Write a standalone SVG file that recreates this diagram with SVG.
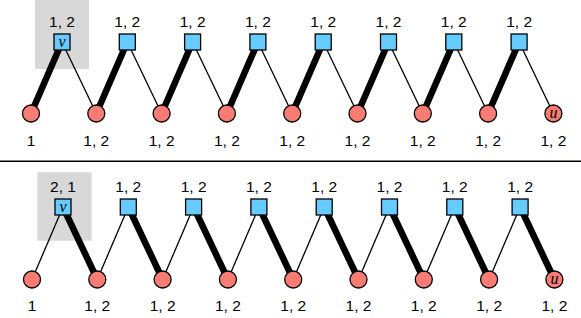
<svg xmlns="http://www.w3.org/2000/svg" width="581" height="318" viewBox="0 0 581 318">
<style>
.bg{fill:#d8d8d8}
.thick{stroke:#000;stroke-width:6.5;stroke-linecap:round}
.thin{stroke:#000;stroke-width:1.3}
.sq{fill:#66ccff;stroke:#000;stroke-width:1.3}
.ci{fill:#f87c74;stroke:#000;stroke-width:1.3}
.lb{font-family:"Liberation Sans",Arial,sans-serif;font-size:15.5px;text-anchor:middle;fill:#000}
.it{font-family:"Liberation Serif","Times New Roman",serif;font-style:italic;font-size:16px;text-anchor:middle;fill:#000}
</style>
<rect class="bg" x="35" y="0" width="54" height="69"/>
<rect class="bg" x="37.3" y="172.3" width="54.4" height="68.4"/>
<line x1="0" y1="161.3" x2="581" y2="161.3" stroke="#000" stroke-width="1.5"/>
<g id="connectors">
<g id="top-edges">
<line class="thick" x1="31" y1="113.5" x2="62" y2="42"/>
<line class="thin" x1="62" y1="42" x2="96.3" y2="113.5"/>
<line class="thick" x1="96.3" y1="113.5" x2="127.3" y2="42"/>
<line class="thin" x1="127.3" y1="42" x2="161.6" y2="113.5"/>
<line class="thick" x1="161.6" y1="113.5" x2="192.6" y2="42"/>
<line class="thin" x1="192.6" y1="42" x2="226.9" y2="113.5"/>
<line class="thick" x1="226.9" y1="113.5" x2="257.9" y2="42"/>
<line class="thin" x1="257.9" y1="42" x2="292.2" y2="113.5"/>
<line class="thick" x1="292.2" y1="113.5" x2="323.2" y2="42"/>
<line class="thin" x1="323.2" y1="42" x2="357.5" y2="113.5"/>
<line class="thick" x1="357.5" y1="113.5" x2="388.5" y2="42"/>
<line class="thin" x1="388.5" y1="42" x2="422.8" y2="113.5"/>
<line class="thick" x1="422.8" y1="113.5" x2="453.8" y2="42"/>
<line class="thin" x1="453.8" y1="42" x2="488.1" y2="113.5"/>
<line class="thick" x1="488.1" y1="113.5" x2="519.1" y2="42"/>
<line class="thin" x1="519.1" y1="42" x2="553.4" y2="113.5"/>
</g>
<g id="bottom-edges">
<line class="thin" x1="32" y1="279.5" x2="63" y2="207"/>
<line class="thick" x1="63" y1="207" x2="97.3" y2="279.5"/>
<line class="thin" x1="97.3" y1="279.5" x2="128.3" y2="207"/>
<line class="thick" x1="128.3" y1="207" x2="162.6" y2="279.5"/>
<line class="thin" x1="162.6" y1="279.5" x2="193.6" y2="207"/>
<line class="thick" x1="193.6" y1="207" x2="227.9" y2="279.5"/>
<line class="thin" x1="227.9" y1="279.5" x2="258.9" y2="207"/>
<line class="thick" x1="258.9" y1="207" x2="293.2" y2="279.5"/>
<line class="thin" x1="293.2" y1="279.5" x2="324.2" y2="207"/>
<line class="thick" x1="324.2" y1="207" x2="358.5" y2="279.5"/>
<line class="thin" x1="358.5" y1="279.5" x2="389.5" y2="207"/>
<line class="thick" x1="389.5" y1="207" x2="423.8" y2="279.5"/>
<line class="thin" x1="423.8" y1="279.5" x2="454.8" y2="207"/>
<line class="thick" x1="454.8" y1="207" x2="489.1" y2="279.5"/>
<line class="thin" x1="489.1" y1="279.5" x2="520.1" y2="207"/>
<line class="thick" x1="520.1" y1="207" x2="554.4" y2="279.5"/>
</g>
</g>
<g id="top-nodes">
<g id="t-s1"><rect class="sq" x="54" y="34" width="16" height="16"/><text class="it" x="62" y="47">v</text><text class="lb" x="62" y="27">1, 2</text></g>
<g id="t-s2"><rect class="sq" x="119.3" y="34" width="16" height="16"/><text class="lb" x="127.3" y="27">1, 2</text></g>
<g id="t-s3"><rect class="sq" x="184.6" y="34" width="16" height="16"/><text class="lb" x="192.6" y="27">1, 2</text></g>
<g id="t-s4"><rect class="sq" x="249.9" y="34" width="16" height="16"/><text class="lb" x="257.9" y="27">1, 2</text></g>
<g id="t-s5"><rect class="sq" x="315.2" y="34" width="16" height="16"/><text class="lb" x="323.2" y="27">1, 2</text></g>
<g id="t-s6"><rect class="sq" x="380.5" y="34" width="16" height="16"/><text class="lb" x="388.5" y="27">1, 2</text></g>
<g id="t-s7"><rect class="sq" x="445.8" y="34" width="16" height="16"/><text class="lb" x="453.8" y="27">1, 2</text></g>
<g id="t-s8"><rect class="sq" x="511.1" y="34" width="16" height="16"/><text class="lb" x="519.1" y="27">1, 2</text></g>
<g id="t-c1"><circle class="ci" cx="31" cy="113.5" r="8.5"/><text class="lb" x="31" y="145.5">1</text></g>
<g id="t-c2"><circle class="ci" cx="96.3" cy="113.5" r="8.5"/><text class="lb" x="96.3" y="145.5">1, 2</text></g>
<g id="t-c3"><circle class="ci" cx="161.6" cy="113.5" r="8.5"/><text class="lb" x="161.6" y="145.5">1, 2</text></g>
<g id="t-c4"><circle class="ci" cx="226.9" cy="113.5" r="8.5"/><text class="lb" x="226.9" y="145.5">1, 2</text></g>
<g id="t-c5"><circle class="ci" cx="292.2" cy="113.5" r="8.5"/><text class="lb" x="292.2" y="145.5">1, 2</text></g>
<g id="t-c6"><circle class="ci" cx="357.5" cy="113.5" r="8.5"/><text class="lb" x="357.5" y="145.5">1, 2</text></g>
<g id="t-c7"><circle class="ci" cx="422.8" cy="113.5" r="8.5"/><text class="lb" x="422.8" y="145.5">1, 2</text></g>
<g id="t-c8"><circle class="ci" cx="488.1" cy="113.5" r="8.5"/><text class="lb" x="488.1" y="145.5">1, 2</text></g>
<g id="t-c9"><circle class="ci" cx="553.4" cy="113.5" r="8.5"/><text class="it" x="553.4" y="118">u</text><text class="lb" x="553.4" y="145.5">1, 2</text></g>
</g>
<g id="bottom-nodes">
<g id="b-s1"><rect class="sq" x="55" y="199" width="16" height="16"/><text class="it" x="63" y="212">v</text><text class="lb" x="63" y="192">2, 1</text></g>
<g id="b-s2"><rect class="sq" x="120.3" y="199" width="16" height="16"/><text class="lb" x="128.3" y="192">1, 2</text></g>
<g id="b-s3"><rect class="sq" x="185.6" y="199" width="16" height="16"/><text class="lb" x="193.6" y="192">1, 2</text></g>
<g id="b-s4"><rect class="sq" x="250.9" y="199" width="16" height="16"/><text class="lb" x="258.9" y="192">1, 2</text></g>
<g id="b-s5"><rect class="sq" x="316.2" y="199" width="16" height="16"/><text class="lb" x="324.2" y="192">1, 2</text></g>
<g id="b-s6"><rect class="sq" x="381.5" y="199" width="16" height="16"/><text class="lb" x="389.5" y="192">1, 2</text></g>
<g id="b-s7"><rect class="sq" x="446.8" y="199" width="16" height="16"/><text class="lb" x="454.8" y="192">1, 2</text></g>
<g id="b-s8"><rect class="sq" x="512.1" y="199" width="16" height="16"/><text class="lb" x="520.1" y="192">1, 2</text></g>
<g id="b-c1"><circle class="ci" cx="32" cy="279.5" r="8.5"/><text class="lb" x="32" y="311">1</text></g>
<g id="b-c2"><circle class="ci" cx="97.3" cy="279.5" r="8.5"/><text class="lb" x="97.3" y="311">1, 2</text></g>
<g id="b-c3"><circle class="ci" cx="162.6" cy="279.5" r="8.5"/><text class="lb" x="162.6" y="311">1, 2</text></g>
<g id="b-c4"><circle class="ci" cx="227.9" cy="279.5" r="8.5"/><text class="lb" x="227.9" y="311">1, 2</text></g>
<g id="b-c5"><circle class="ci" cx="293.2" cy="279.5" r="8.5"/><text class="lb" x="293.2" y="311">1, 2</text></g>
<g id="b-c6"><circle class="ci" cx="358.5" cy="279.5" r="8.5"/><text class="lb" x="358.5" y="311">1, 2</text></g>
<g id="b-c7"><circle class="ci" cx="423.8" cy="279.5" r="8.5"/><text class="lb" x="423.8" y="311">1, 2</text></g>
<g id="b-c8"><circle class="ci" cx="489.1" cy="279.5" r="8.5"/><text class="lb" x="489.1" y="311">1, 2</text></g>
<g id="b-c9"><circle class="ci" cx="554.4" cy="279.5" r="8.5"/><text class="it" x="554.4" y="284">u</text><text class="lb" x="554.4" y="311">1, 2</text></g>
</g>
</svg>
